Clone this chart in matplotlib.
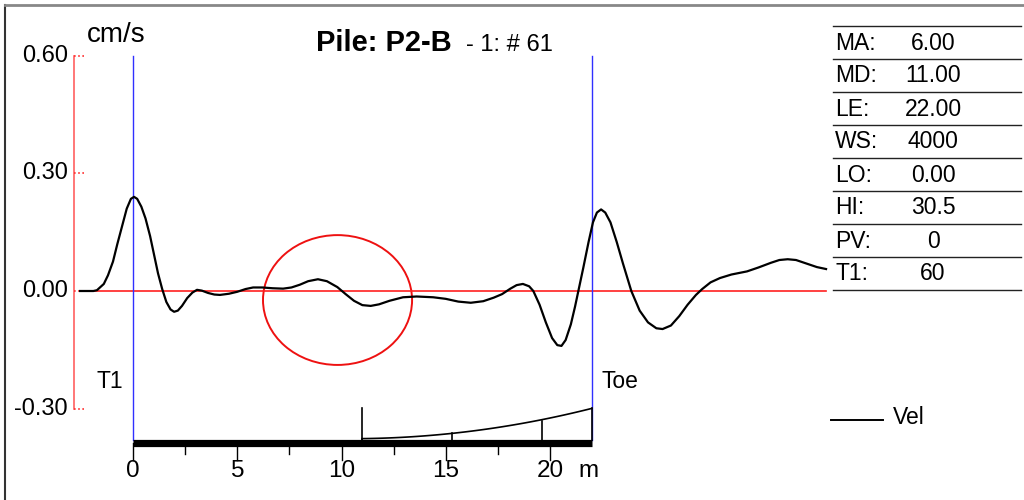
import numpy as np
import matplotlib.pyplot as plt
from matplotlib.patches import Ellipse
from matplotlib.lines import Line2D

plt.rcParams['font.family'] = ['Liberation Sans', 'DejaVu Sans']

# velocity trace (x in m, velocity in cm/s)
vel_x = [-2.54, -1.9, -1.73, -1.4, -1.2, -0.96, -0.75, -0.5, -0.3, -0.1, 0.05, 0.2,
         0.4, 0.6, 0.82, 1.0, 1.2, 1.4, 1.6, 1.8, 1.97, 2.15, 2.35, 2.6, 2.85, 3.07,
         3.3, 3.6, 3.9, 4.17, 4.6, 5.0, 5.4, 5.76, 6.2, 6.7, 7.2, 7.6, 8.0, 8.4,
         8.87, 9.3, 9.8, 10.2, 10.6, 11.0, 11.4, 11.8, 12.3, 12.95, 13.6, 14.4, 15.0,
         15.6, 16.2, 16.8, 17.3, 17.7, 18.1, 18.4, 18.7, 19.0, 19.2, 19.5, 19.8, 20.1,
         20.35, 20.55, 20.75, 21.0, 21.2, 21.4, 21.6, 21.85, 22.06, 22.25, 22.45,
         22.65, 22.9, 23.2, 23.5, 23.9, 24.3, 24.7, 25.1, 25.4, 25.8, 26.2, 26.6,
         27.0, 27.3, 27.7, 28.15, 28.7, 29.45, 30.0, 30.6, 31.0, 31.4, 31.8, 32.3,
         32.8, 33.24]
vel_y = [0.0, 0.0, 0.002, 0.018, 0.04, 0.075, 0.12, 0.17, 0.21, 0.235, 0.24, 0.235,
         0.215, 0.185, 0.14, 0.095, 0.045, 0.005, -0.028, -0.047, -0.053, -0.05,
         -0.038, -0.018, -0.004, 0.003, 0.001, -0.005, -0.009, -0.01, -0.007, -0.002,
         0.005, 0.009, 0.009, 0.007, 0.006, 0.009, 0.016, 0.025, 0.03, 0.025, 0.01,
         -0.008, -0.025, -0.036, -0.038, -0.034, -0.025, -0.016, -0.014, -0.016,
         -0.02, -0.027, -0.03, -0.026, -0.017, -0.008, 0.006, 0.015, 0.018, 0.012,
         0.0, -0.035, -0.08, -0.12, -0.138, -0.14, -0.125, -0.085, -0.04, 0.01, 0.06,
         0.125, 0.175, 0.2, 0.208, 0.2, 0.175, 0.125, 0.07, 0.0, -0.05, -0.08, -0.095,
         -0.097, -0.088, -0.064, -0.035, -0.01, 0.005, 0.022, 0.033, 0.042, 0.05,
         0.06, 0.072, 0.079, 0.081, 0.079, 0.07, 0.061, 0.056]

yticks = [0.60, 0.30, 0.00, -0.30]
xticks = [0, 5, 10, 15, 20]
xminor = [2.5, 7.5, 12.5, 17.5]

# pile profile sketch under the trace
prof_x = [11, 15.3, 19.6, 22]
prof_top = [-0.377, -0.361, -0.331, -0.298]

table_keys = ['MA:', 'MD:', 'LE:', 'WS:', 'LO:', 'HI:', 'PV:', 'T1:']
table_vals = ['6.00', '11.00', '22.00', '4000', '0.00', '30.5', '0', '60']

W, H = 1024, 500
fig = plt.figure(figsize=(W / 100, H / 100), dpi=100)
ax = fig.add_axes([0, 0, 1, 1])
ppm, ppu, y0px, x0px = 20.85, 392.2, 291, 133
ax.set_xlim(-x0px / ppm, (W - x0px) / ppm)
ax.set_ylim(-(H - y0px) / ppu, y0px / ppu)
ax.axis('off')

def px(x):
    return (x - x0px) / ppm

bar_y = -0.388
bar_top = -0.379
fs = 16.5

# red y axis with dotted ticks
ax.plot([px(74), px(74)], [-0.30, 0.60], color='#ff6060', lw=1.2)
for t in yticks:
    ax.plot([px(74), px(86)], [t, t], color='#ff3030', lw=1.2, ls=(0, (1, 1.5)))
    ax.text(px(68), t, '%.2f' % t, ha='right', va='center', fontsize=17)
ax.text(px(87), 0.635, 'cm/s', ha='left', va='baseline', fontsize=20)

# zero line and markers
ax.plot([vel_x[0], vel_x[-1]], [0, 0], color='#ff2020', lw=1.2)
for xv in [0, 22]:
    ax.plot([xv, xv], [bar_top, 0.60], color='#3030ff', lw=1.0)

ax.add_patch(Ellipse((9.81, -0.023), 7.15, 0.331, fill=False, ec='#ee1111', lw=1.4))
ax.plot(vel_x, vel_y, color='black', lw=1.6, solid_joinstyle='round')

ax.text(px(123), -0.23, 'T1', ha='right', va='center', fontsize=fs)
ax.text(px(601), -0.23, 'Toe', ha='left', va='center', fontsize=fs)

# bottom scale bar
ax.plot([0, 22], [bar_y, bar_y], color='black', lw=5.2, solid_capstyle='butt')
for t in xticks:
    ax.plot([t, t], [bar_y, bar_y - 0.042], color='black', lw=1.0)
    ax.text(t, -0.459, str(t), ha='center', va='center', fontsize=17.5)
for t in xminor:
    ax.plot([t, t], [bar_y, bar_y - 0.028], color='black', lw=1.0)
ax.text(px(578), -0.459, 'm', ha='left', va='center', fontsize=17.5)

# profile
ax.plot([11, 11], [bar_top, -0.298], color='black', lw=1.2)
for xv, yt in zip(prof_x, prof_top):
    ax.plot([xv, xv], [bar_top, yt], color='black', lw=1.2)
pc = np.polyfit(prof_x, prof_top, 2)
xs = np.linspace(prof_x[0], prof_x[-1], 60)
ax.plot(xs, np.polyval(pc, xs), color='black', lw=1.2)

# title
fig.text(316 / W, 1 - 51 / H, 'Pile: P2-B', fontsize=21, fontweight='bold', ha='left', va='baseline')
fig.text(466 / W, 1 - 51 / H, '- 1: # 61', fontsize=17, ha='left', va='baseline')

# table on the right
for i in range(9):
    yy = 1 - (26 + 33 * i) / H
    fig.add_artist(Line2D([833 / W, 1021 / W], [yy, yy], color='#222222', lw=1.0))
for i, (k, v) in enumerate(zip(table_keys, table_vals)):
    yy = 1 - (43 + 33 * i) / H
    fig.text(835 / W, yy, k, fontsize=fs, ha='left', va='center')
    fig.text(933 / W, yy, v, fontsize=fs, ha='center', va='center')

# legend
fig.add_artist(Line2D([831 / W, 883 / W], [1 - 420 / H] * 2, color='black', lw=1.4))
fig.text(893 / W, 1 - 418 / H, 'Vel', fontsize=fs, ha='left', va='center')

# frame
fig.add_artist(Line2D([5 / W, 5 / W], [0, 1 - 5 / H], color='#333333', lw=1.5))
fig.add_artist(Line2D([5 / W, 1], [1 - 5 / H, 1 - 5 / H], color='#888888', lw=2.0))

fig.savefig('out.png', dpi=100)
